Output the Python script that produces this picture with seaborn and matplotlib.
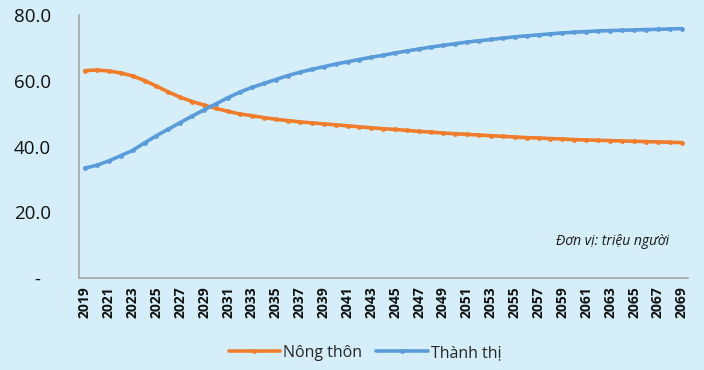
import numpy as np
import pandas as pd
import matplotlib
matplotlib.use('Agg')
import matplotlib.pyplot as plt
import seaborn as sns
from matplotlib.ticker import FixedLocator

# ---------- dados ----------
years = list(range(2019, 2070))
nong_thon = [63.1, 63.3, 63.0, 62.4, 61.5, 60.1, 58.4, 56.6, 55.0, 53.7,
             52.6, 51.6, 50.7, 49.9, 49.4, 48.8, 48.3, 47.9, 47.5, 47.2,
             46.9, 46.6, 46.3, 46.0, 45.7, 45.4, 45.2, 44.9, 44.6, 44.4,
             44.1, 43.9, 43.7, 43.5, 43.3, 43.1, 42.9, 42.7, 42.6, 42.4,
             42.3, 42.1, 42.0, 41.9, 41.8, 41.7, 41.6, 41.5, 41.4, 41.3,
             41.2]
thanh_thi = [33.4, 34.3, 35.6, 37.2, 38.8, 41.1, 43.3, 45.3, 47.3, 49.3,
             51.2, 53.0, 54.9, 56.6, 58.0, 59.2, 60.4, 61.6, 62.6, 63.5,
             64.3, 65.1, 65.8, 66.5, 67.2, 67.8, 68.5, 69.1, 69.7, 70.3,
             70.8, 71.3, 71.8, 72.2, 72.6, 73.0, 73.4, 73.7, 74.0, 74.3,
             74.6, 74.8, 75.0, 75.2, 75.3, 75.4, 75.5, 75.6, 75.7, 75.8,
             75.9]
series_names = ['Nông thôn', 'Thành thị']
y_ticks = [0, 20, 40, 60, 80]
y_ticklabels = ['-  ', '20.0', '40.0', '60.0', '80.0']
unit_note = 'Đơn vị: triệu người'

df = pd.DataFrame({'Nam': years, series_names[0]: nong_thon, series_names[1]: thanh_thi})
df_long = df.melt(id_vars='Nam', var_name='Khu vuc', value_name='Dan so')

# ---------- estilo ----------
bg = '#d5eefa'
sns.set_theme(style='white')
plt.rcParams['font.family'] = ['Open Sans', 'DejaVu Sans']

fig = plt.figure(figsize=(7.04, 3.70), dpi=100, facecolor=bg)
ax = fig.add_axes([0.112, 0.249, 0.865, 0.710])
ax.set_facecolor(bg)

palette = {series_names[0]: '#f07d2c', series_names[1]: '#5b9bd9'}
sns.lineplot(data=df_long, x='Nam', y='Dan so', hue='Khu vuc', palette=palette,
             marker='o', markersize=3.5, markeredgewidth=0, linewidth=2.6, ax=ax)

ax.set_xlim(years[0] - 0.5, years[-1] + 0.5)
ax.set_ylim(0, 80)
ax.set_yticks(y_ticks)
ax.set_yticklabels(y_ticklabels, fontsize=13.5, color='#111111', fontweight='medium')
ax.set_xticks(years[::2])
ax.set_xticklabels([str(y) for y in years[::2]], rotation=90, fontsize=10,
                   fontweight='bold', color='#111111')
ax.xaxis.set_minor_locator(FixedLocator([y - 0.5 for y in years] + [years[-1] + 0.5]))
ax.tick_params(axis='x', which='major', length=0, pad=6)
ax.tick_params(axis='x', which='minor', length=5, width=1, color='#a6a6a6', direction='out')
ax.tick_params(axis='y', length=7, width=1, color='#a6a6a6', direction='out', pad=13)
ax.set_xlabel('')
ax.set_ylabel('')

for s in ['top', 'right']:
    ax.spines[s].set_visible(False)
for s in ['left', 'bottom']:
    ax.spines[s].set_color('#a6a6a6')
    ax.spines[s].set_linewidth(1.2)

ax.text(0.97, 0.14, unit_note, transform=ax.transAxes, ha='right', va='center',
        fontsize=10, style='italic', color='#1a1a1a')

handles, labels = ax.get_legend_handles_labels()
ax.legend(handles, labels, loc='center', bbox_to_anchor=(0.47, -0.285), ncol=2,
          frameon=False, handlelength=3.2, columnspacing=0.9,
          handletextpad=0.2, prop={'weight': 'medium', 'size': 11.5})

fig.savefig('out.png', dpi=100, facecolor=bg)
